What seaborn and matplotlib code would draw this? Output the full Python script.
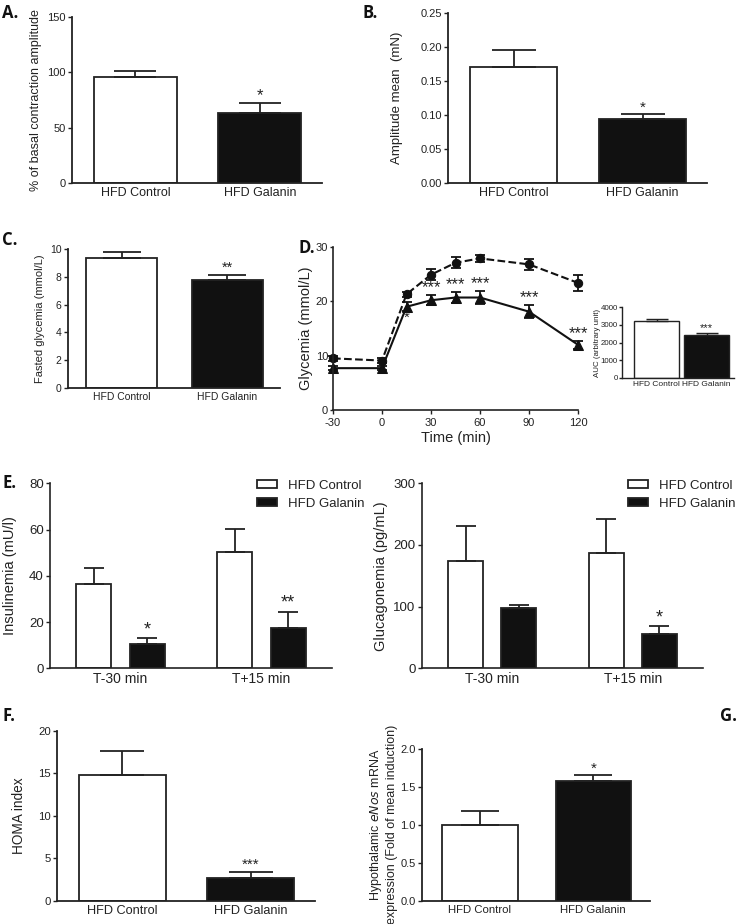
import seaborn as sns
import numpy as np
import pandas as pd
import matplotlib.pyplot as plt

groups = ['HFD Control', 'HFD Galanin']
bar_colors = {'HFD Control': 'white', 'HFD Galanin': '#111111'}
edge = '#222222'

# A. contraction amplitude (% of basal)
contraction_mean = [96, 63]
contraction_sem = [5.5, 9]
contraction_stars = ['', '*']

# B. amplitude mean (mN)
amplitude_mean = [0.170, 0.094]
amplitude_sem = [0.025, 0.007]
amplitude_stars = ['', '*']

# C. fasted glycemia
fasted_mean = [9.35, 7.77]
fasted_sem = [0.43, 0.36]
fasted_stars = ['', '**']

# D. glycemia over time
time_min = [-30, 0, 15, 30, 45, 60, 90, 120]
ctrl_glyc = [9.5, 9.1, 21.3, 24.9, 27.1, 27.9, 26.8, 23.4]
ctrl_glyc_sem = [0.5, 0.4, 0.5, 1.0, 1.0, 0.7, 1.0, 1.5]
gal_glyc = [7.7, 7.7, 19.0, 20.2, 20.7, 20.7, 18.1, 12.0]
gal_glyc_sem = [0.4, 0.4, 0.8, 0.9, 1.0, 1.2, 1.2, 0.7]
gal_glyc_stars = ['', '', '', '***', '***', '***', '***', '***']

# D inset. AUC
auc_mean = [3230, 2440]
auc_sem = [95, 110]
auc_stars = ['', '***']

# E. insulinemia / glucagonemia
timepoints = ['T-30 min', 'T+15 min']
insulin_ctrl = [36.3, 50.4]
insulin_ctrl_sem = [6.9, 9.7]
insulin_gal = [10.4, 17.6]
insulin_gal_sem = [2.6, 6.9]
insulin_stars = ['*', '**']
glucagon_ctrl = [174.5, 187.5]
glucagon_ctrl_sem = [56.5, 54.5]
glucagon_gal = [97.3, 55.0]
glucagon_gal_sem = [5.4, 13.0]
glucagon_stars = ['', '*']

# F. HOMA index
homa_mean = [14.86, 2.7]
homa_sem = [2.74, 0.7]
homa_stars = ['', '***']

# G. eNos mRNA
enos_mean = [1.0, 1.58]
enos_sem = [0.18, 0.07]
enos_stars = ['', '*']

sns.set_style('ticks')
plt.rcParams['font.family'] = ['Liberation Sans', 'DejaVu Sans']
plt.rcParams['axes.unicode_minus'] = False
plt.rcParams['text.color'] = '#222222'
plt.rcParams['axes.labelcolor'] = '#222222'
plt.rcParams['xtick.color'] = '#222222'
plt.rcParams['ytick.color'] = '#222222'

W, H = 738, 924
fig = plt.figure(figsize=(W / 100, H / 100), dpi=100)


def add_axes(x0, x1, y0, y1):
    return fig.add_axes([x0 / W, (H - y1) / H, (x1 - x0) / W, (y1 - y0) / H])


def style_axis(ax, ysize, xsize, xticks=False, lw=1.2):
    sns.despine(ax=ax)
    for s in ['left', 'bottom']:
        ax.spines[s].set_linewidth(lw)
        ax.spines[s].set_color(edge)
    ax.tick_params(axis='y', length=3, width=1, labelsize=ysize, pad=1.5)
    ax.tick_params(axis='x', length=3 if xticks else 0, width=1, labelsize=xsize, pad=3)


def star_text(ax, xs, tops, stars, size):
    for x, t, s in zip(xs, tops, stars):
        if s:
            ax.annotate(s, (x, t), xytext=(0, 0), textcoords='offset points',
                        ha='center', va='bottom', fontsize=size)


def two_bar_panel(ax, means, sems, stars, width, cap, ylim, yticks, ylabel,
                  ysize, xsize, lsize, labx, ssize, lw=1.3, yfmt=None):
    df = pd.DataFrame({'group': groups, 'value': means})
    sns.barplot(data=df, x='group', y='value', hue='group', palette=bar_colors,
                width=width, edgecolor=edge, linewidth=lw, saturation=1,
                legend=False, ax=ax)
    xs = [b.get_x() + b.get_width() / 2 for c in ax.containers for b in c]
    ax.errorbar(xs, means, yerr=[np.zeros(len(sems)), sems], fmt='none',
                ecolor=edge, elinewidth=lw, capsize=cap, capthick=lw)
    star_text(ax, xs, np.add(means, sems), stars, ssize)
    ax.set_xlim(-0.51, 1.5)
    ax.set_ylim(*ylim)
    ax.set_yticks(yticks)
    if yfmt:
        ax.set_yticklabels([yfmt.format(v) for v in yticks])
    ax.set_xlabel('')
    ax.set_ylabel(ylabel, fontsize=lsize)
    ax.yaxis.set_label_coords(labx, 0.5)
    style_axis(ax, ysize, xsize, lw=lw)


def grouped_panel(ax, ctrl, ctrl_sem, gal, gal_sem, stars, ylim, yticks, ylabel, labx):
    df = pd.DataFrame({'time': timepoints * 2,
                       'group': [groups[0]] * 2 + [groups[1]] * 2,
                       'value': ctrl + gal})
    sns.barplot(data=df, x='time', y='value', hue='group', palette=bar_colors,
                width=0.754, gap=0.34, edgecolor=edge, linewidth=1.3,
                saturation=1, ax=ax)
    bars = list(ax.containers)
    for cont, vals, sems in zip(bars, [ctrl, gal], [ctrl_sem, gal_sem]):
        xs = [b.get_x() + b.get_width() / 2 for b in cont]
        ax.errorbar(xs, vals, yerr=[np.zeros(len(sems)), sems], fmt='none',
                    ecolor=edge, elinewidth=1.3, capsize=7.5, capthick=1.3)
    xs = [b.get_x() + b.get_width() / 2 for b in bars[1]]
    star_text(ax, xs, np.add(gal, gal_sem), stars, 13)
    ax.set_xlim(-0.5, 1.5)
    ax.set_ylim(*ylim)
    ax.set_yticks(yticks)
    ax.set_xlabel('')
    ax.set_ylabel(ylabel, fontsize=10.5)
    ax.yaxis.set_label_coords(labx, 0.5)
    ax.legend(bars, groups, loc='upper left', bbox_to_anchor=(0.734, 1.02),
              frameon=False, fontsize=9.5, borderpad=0, borderaxespad=0,
              handlelength=1.5, handleheight=0.55, handletextpad=0.85,
              labelspacing=0.45)
    style_axis(ax, 9.5, 10)


# A
axA = add_axes(72, 322, 17, 183)
two_bar_panel(axA, contraction_mean, contraction_sem, contraction_stars, 0.67, 15,
              (0, 150), [0, 50, 100, 150], '% of basal contraction amplitude',
              8, 9, 9, -0.12, 12)

# B
axB = add_axes(448, 707, 13, 183)
two_bar_panel(axB, amplitude_mean, amplitude_sem, amplitude_stars, 0.675, 16,
              (0, 0.25), [0, 0.05, 0.10, 0.15, 0.20, 0.25], 'Amplitude mean  (mN)',
              8, 9, 9.5, -0.173, 11)

# C
axC = add_axes(68, 280, 249, 388)
two_bar_panel(axC, fasted_mean, fasted_sem, fasted_stars, 0.67, 13.5,
              (0, 10), [0, 2, 4, 6, 8, 10], 'Fasted glycemia (mmol/L)',
              7.5, 7.5, 8, -0.108, 10.5)

# D
axD = add_axes(333, 578, 247, 410)
sns.lineplot(x=time_min, y=ctrl_glyc, ax=axD, color='#111111', linestyle='--',
             marker='o', markersize=6, linewidth=1.5, markeredgecolor='#111111',
             clip_on=False)
sns.lineplot(x=time_min, y=gal_glyc, ax=axD, color='#111111', linestyle='-',
             marker='^', markersize=6.5, linewidth=1.5, markeredgecolor='#111111',
             clip_on=False)
axD.errorbar(time_min, ctrl_glyc, yerr=ctrl_glyc_sem, fmt='none', ecolor='#111111',
             elinewidth=1.3, capsize=3.6, capthick=1.3, clip_on=False)
axD.errorbar(time_min, gal_glyc, yerr=gal_glyc_sem, fmt='none', ecolor='#111111',
             elinewidth=1.3, capsize=3.6, capthick=1.3, clip_on=False)
star_text(axD, time_min, np.add(gal_glyc, gal_glyc_sem), gal_glyc_stars, 12)
axD.annotate('*', (time_min[2], gal_glyc[2] - gal_glyc_sem[2]), ha='center',
             va='top', fontsize=11)
axD.set_xlim(-30, 120)
axD.set_ylim(0, 30)
axD.set_xticks([-30, 0, 30, 60, 90, 120])
axD.set_yticks([0, 10, 20, 30])
axD.set_xlabel('Time (min)', fontsize=10.5, labelpad=2)
axD.set_ylabel('Glycemia (mmol/L)', fontsize=10.5)
axD.yaxis.set_label_coords(-0.082, 0.5)
style_axis(axD, 8, 8, xticks=True)
axD.tick_params(axis='y', length=2.5, pad=1)

# D inset
axI = add_axes(622, 734, 307, 378)
df_auc = pd.DataFrame({'group': groups, 'value': auc_mean})
sns.barplot(data=df_auc, x='group', y='value', hue='group', palette=bar_colors,
            width=0.9, edgecolor=edge, linewidth=1.0, saturation=1, legend=False, ax=axI)
xs_auc = [b.get_x() + b.get_width() / 2 for c in axI.containers for b in c]
axI.errorbar(xs_auc, auc_mean, yerr=[np.zeros(2), auc_sem], fmt='none', ecolor=edge,
             elinewidth=1.0, capsize=8, capthick=1.0)
star_text(axI, xs_auc, np.add(auc_mean, auc_sem), auc_stars, 8)
axI.set_xlim(-0.7, 1.55)
axI.set_ylim(0, 4000)
axI.set_yticks([0, 1000, 2000, 3000, 4000])
axI.set_xlabel('')
axI.set_ylabel('AUC (arbitrary unit)', fontsize=5.7)
axI.yaxis.set_label_coords(-0.19, 0.5)
style_axis(axI, 5.7, 6, lw=1.0)
axI.tick_params(axis='y', length=2, pad=1)
axI.tick_params(axis='x', pad=2)

# E
axE1 = add_axes(50, 332, 483.3, 668.3)
grouped_panel(axE1, insulin_ctrl, insulin_ctrl_sem, insulin_gal, insulin_gal_sem,
              insulin_stars, (0, 80), [0, 20, 40, 60, 80], 'Insulinemia (mU/l)', -0.117)
axE2 = add_axes(421.7, 703, 483.3, 668.3)
grouped_panel(axE2, glucagon_ctrl, glucagon_ctrl_sem, glucagon_gal, glucagon_gal_sem,
              glucagon_stars, (0, 300), [0, 100, 200, 300], 'Glucagonemia (pg/mL)', -0.12)

# F
axF = add_axes(57, 315, 731, 900.7)
two_bar_panel(axF, homa_mean, homa_sem, homa_stars, 0.68, 15.5,
              (0, 20), [0, 5, 10, 15, 20], 'HOMA index',
              8.2, 9.2, 9.8, -0.12, 11)

# G
axG = add_axes(422, 650, 748.7, 900.7)
two_bar_panel(axG, enos_mean, enos_sem, enos_stars, 0.665, 14,
              (0, 2.0), [0, 0.5, 1.0, 1.5, 2.0],
              'Hypothalamic $\\it{eNos}$ mRNA\nexpression (Fold of mean induction)',
              8, 8.2, 9, -0.105, 11)

# panel letters
for lab, x, y in [('A.', 2, 4), ('B.', 362, 4), ('C.', 2, 231), ('D.', 298, 239),
                  ('E.', 2, 474), ('F.', 2, 707), ('G.', 720, 707)]:
    fig.text(x / W, 1 - y / H, lab, fontsize=12, fontweight='bold',
             family=['Open Sans', 'DejaVu Sans'], color='#111111', va='top', ha='left')

fig.savefig('out.png', dpi=100)
